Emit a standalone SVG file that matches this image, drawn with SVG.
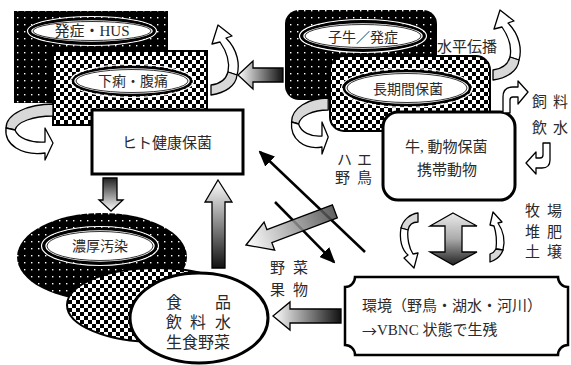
<svg xmlns="http://www.w3.org/2000/svg" width="571" height="365" viewBox="0 0 571 365">
<style>
text{font-family:"Liberation Serif","Noto Sans CJK JP",serif;fill:#2a2a2a;dominant-baseline:central}
.c{text-anchor:middle}
.blk{fill:url(#dots)}
.chk{fill:url(#checks);stroke:#000;stroke-width:2}
.ell{fill:#fff;stroke:#000;stroke-width:2.5}
.ein{fill:none;stroke:#000;stroke-width:0.8}
.eout{fill:none;stroke:#fff;stroke-width:1.2}
.box{fill:#fff;stroke:#000;stroke-width:3}
.rw{fill:#fff;stroke:#000;stroke-width:1.3;stroke-linejoin:round;vector-effect:non-scaling-stroke}
.rg{fill:#d8d8d8;stroke:#000;stroke-width:1.3;stroke-linejoin:round;vector-effect:non-scaling-stroke}
.ga{stroke:#000;stroke-width:1.3}
.ln{stroke:#000;stroke-width:2.5;fill:none}
.cjk{font-family:"Noto Sans CJK JP",sans-serif}
</style>
<defs>
<pattern id="dots" width="7" height="7" patternUnits="userSpaceOnUse"><rect width="7" height="7" fill="#000"/><rect x="3" y="3" width="1.4" height="1.4" fill="#fff"/></pattern>
<pattern id="checks" width="8" height="8" patternUnits="userSpaceOnUse"><rect width="8" height="8" fill="#fff"/><rect width="4" height="4" fill="#000"/><rect x="4" y="4" width="4" height="4" fill="#000"/></pattern>
<linearGradient id="gL" x1="0" y1="0" x2="1" y2="0"><stop offset="0" stop-color="#fff"/><stop offset="1" stop-color="#111"/></linearGradient>
<linearGradient id="gD" x1="0" y1="0" x2="0" y2="1"><stop offset="0" stop-color="#222"/><stop offset="1" stop-color="#fff"/></linearGradient>
<linearGradient id="gU" x1="0" y1="0" x2="0" y2="1"><stop offset="0" stop-color="#fff"/><stop offset="1" stop-color="#111"/></linearGradient>
<linearGradient id="gDiag" x1="0" y1="0" x2="95" y2="0" gradientUnits="userSpaceOnUse"><stop offset="0" stop-color="#fff"/><stop offset="1" stop-color="#444"/></linearGradient>
<linearGradient id="gV" x1="0" y1="0" x2="0" y2="1"><stop offset="0" stop-color="#ececec"/><stop offset="0.5" stop-color="#aaa"/><stop offset="1" stop-color="#222"/></linearGradient>
<marker id="ah" viewBox="0 0 16 14" refX="14" refY="7" markerWidth="16" markerHeight="14" orient="auto" markerUnits="userSpaceOnUse"><path d="M0,0 L16,7 L0,14 Z" fill="#000"/></marker>
<g id="ringSide">
<path class="rg" d="M49,0 C24,0 2,10 2,24 L11,26 C13,18 29,12 49,12 Z"/>
<path class="rw" d="M2,24 C0,41 18,52 41,49 L41,56 L49,39 L41,24 L41,38 C26,39 14,34 11,26 Z"/>
</g>
<g id="ringUp">
<path class="rw" d="M2,19 L8,0 L22,11 L16,13 C28,25 30,40 27,50 L18,47 C20,37 17,27 10,17 Z"/>
<path class="rg" d="M27,50 C26,61 15,68 1,70 L1,60 C10,59 16,54 18,47 Z"/>
</g>
</defs>
<rect width="571" height="365" fill="#fff"/>

<g id="n-hus">
<rect x="14" y="11" width="154" height="92" class="blk"/>
<ellipse cx="92" cy="31" rx="64.5" ry="14.5" class="eout"/>
<ellipse cx="92" cy="31" rx="62" ry="12" class="ell"/>
<ellipse cx="92" cy="31" rx="59" ry="9.5" class="ein"/>
<text x="92" y="31" class="c" font-size="15">発症・HUS</text>
</g>
<g id="n-geri">
<rect x="53" y="51" width="154" height="74" class="chk"/>
<ellipse cx="132" cy="81" rx="61.5" ry="16.5" class="eout"/>
<ellipse cx="132" cy="81" rx="59" ry="14" class="ell"/>
<ellipse cx="132" cy="81" rx="56" ry="11.5" class="ein"/>
<text x="133" y="81" class="c" font-size="14">下痢・腹痛</text>
</g>
<g id="n-human">
<rect x="92" y="110" width="151" height="64" class="box"/>
<text x="167" y="143" class="c" font-size="15">ヒト健康保菌</text>
</g>

<g id="n-calf">
<rect x="285" y="10" width="152" height="90" rx="14" class="blk"/>
<ellipse cx="363" cy="36" rx="63.5" ry="16.5" class="eout"/>
<ellipse cx="363" cy="36" rx="61" ry="14" class="ell"/>
<ellipse cx="363" cy="36" rx="58" ry="11.5" class="ein"/>
<text x="363" y="37" class="c" font-size="14">子牛／発症</text>
</g>
<g id="n-long">
<rect x="330" y="56" width="160" height="75" rx="14" class="chk"/>
<ellipse cx="407" cy="88" rx="65.5" ry="19.5" class="eout"/>
<ellipse cx="407" cy="88" rx="63" ry="17" class="ell"/>
<ellipse cx="407" cy="88" rx="60" ry="14.5" class="ein"/>
<text x="408" y="89" class="c" font-size="14">長期間保菌</text>
</g>
<g id="n-cow">
<rect x="383" y="112" width="132" height="88" rx="15" class="box"/>
<text x="405" y="147" font-size="15">牛, 動物保菌</text>
<text x="447" y="170" class="c" font-size="15">携帯動物</text>
</g>

<g id="n-heavy">
<ellipse cx="102" cy="257" rx="85" ry="44" class="blk"/>
<ellipse cx="100" cy="246" rx="58.5" ry="19.5" class="eout"/>
<ellipse cx="100" cy="246" rx="56" ry="17" class="ell"/>
<ellipse cx="100" cy="246" rx="53" ry="14.5" class="ein"/>
<text x="100" y="246" class="c" font-size="14">濃厚汚染</text>
</g>
<g id="n-mid">
<ellipse cx="156" cy="305" rx="89" ry="37" class="chk"/>
</g>
<g id="n-food">
<ellipse cx="199" cy="318" rx="69" ry="45" class="box"/>
<text x="166" y="302" font-size="16">食</text>
<text x="215" y="302" font-size="16">品</text>
<text x="166" y="322" font-size="16">飲</text>
<text x="190" y="322" font-size="16">料</text>
<text x="215" y="322" font-size="16">水</text>
<text x="166" y="342" font-size="16">生食野菜</text>
</g>

<g id="n-env">
<path d="M355,277 H558 A10,10 0 0 0 568,287 V345 A10,10 0 0 0 558,355 H355 A10,10 0 0 0 345,345 V287 A10,10 0 0 0 355,277 Z" fill="#fff" stroke="#000" stroke-width="2.5"/>
<text x="362" y="306" font-size="15">環境（野鳥・湖水・河川）</text>
<text x="362" y="330" font-size="15"><tspan class="cjk">→</tspan>VBNC 状態で生残</text>
</g>

<g id="labels">
<text x="467" y="47" class="c" font-size="15">水平伝播</text>
<text x="532" y="102" font-size="15">飼</text><text x="553" y="102" font-size="15">料</text>
<text x="532" y="128" font-size="15">飲</text><text x="553" y="128" font-size="15">水</text>
<text x="337" y="160" font-size="15">ハ</text><text x="357" y="160" font-size="15">エ</text>
<text x="335" y="178" font-size="15">野</text><text x="357" y="178" font-size="15">鳥</text>
<text x="525" y="211" font-size="15">牧</text><text x="547" y="211" font-size="15">場</text>
<text x="525" y="232" font-size="15">堆</text><text x="547" y="232" font-size="15">肥</text>
<text x="525" y="252" font-size="15">土</text><text x="547" y="252" font-size="15">壌</text>
<text x="270" y="268" font-size="15">野</text><text x="293" y="268" font-size="15">菜</text>
<text x="270" y="290" font-size="15">果</text><text x="293" y="290" font-size="15">物</text>
</g>

<g id="connectors">
<path class="ga" fill="url(#gL)" d="M238,75 L253,61 V68 H283 V82 H253 V89 Z"/>
<path class="ga" fill="url(#gD)" d="M103,178 H117 V200 H123 L111,211 L99,200 H103 Z"/>
<path class="ga" fill="url(#gU)" d="M218,180 L232,202 H225 V268 H212 V202 H205 Z"/>
<path class="ga" fill="url(#gL)" d="M273,316 L290,302 V309 H341 V323 H290 V330 Z"/>
<line class="ln" x1="365" y1="252" x2="260" y2="152" marker-end="url(#ah)"/>
<line class="ln" x1="275" y1="202" x2="334" y2="262" marker-end="url(#ah)"/>
<g transform="translate(246,245) rotate(-20.7)"><path class="ga" fill="url(#gDiag)" fill-opacity="0.85" d="M0,0 L25,-15 V-7 H95 V7 H25 V15 Z"/></g>
<path class="ga" fill="url(#gV)" d="M453,213 L477,226 H462 V252 H477 L453,265 L430,252 H445 V226 H430 Z"/>
<use href="#ringSide" transform="translate(4,104)"/>
<use href="#ringSide" transform="translate(290,98) scale(0.78,1)"/>
<use href="#ringUp" transform="translate(210,25)"/>
<use href="#ringUp" transform="translate(492,10)"/>
<path class="rg" d="M418,213 C410,214 403,220 401,228 L408,230 C409,225 413,222 418,222 Z"/>
<path class="rw" d="M401,228 C399,240 402,250 408,255 L404,258 L414,268 L418,253 L413,254 C409,248 407,238 408,230 Z"/>
<path class="rw" d="M490,225 L493,212 L502,222 L498,223 C504,232 505,242 503,250 L496,249 C497,240 496,232 494,226 Z"/>
<path class="rg" d="M503,250 C501,256 496,260 490,262 L490,254 C493,253 495,251 496,249 Z"/>
<path class="rw" d="M503,113 V97 Q503,87 513,87 H518 V81 L528,92 L518,104 V97 H513 Q510,97 510,100 V113 Z"/>
<path class="rw" d="M543,143 H550 V160 Q550,168 542,168 H536 V174 L526,163 L536,152 V158 H540 Q543,158 543,155 Z"/>
</g>
</svg>
